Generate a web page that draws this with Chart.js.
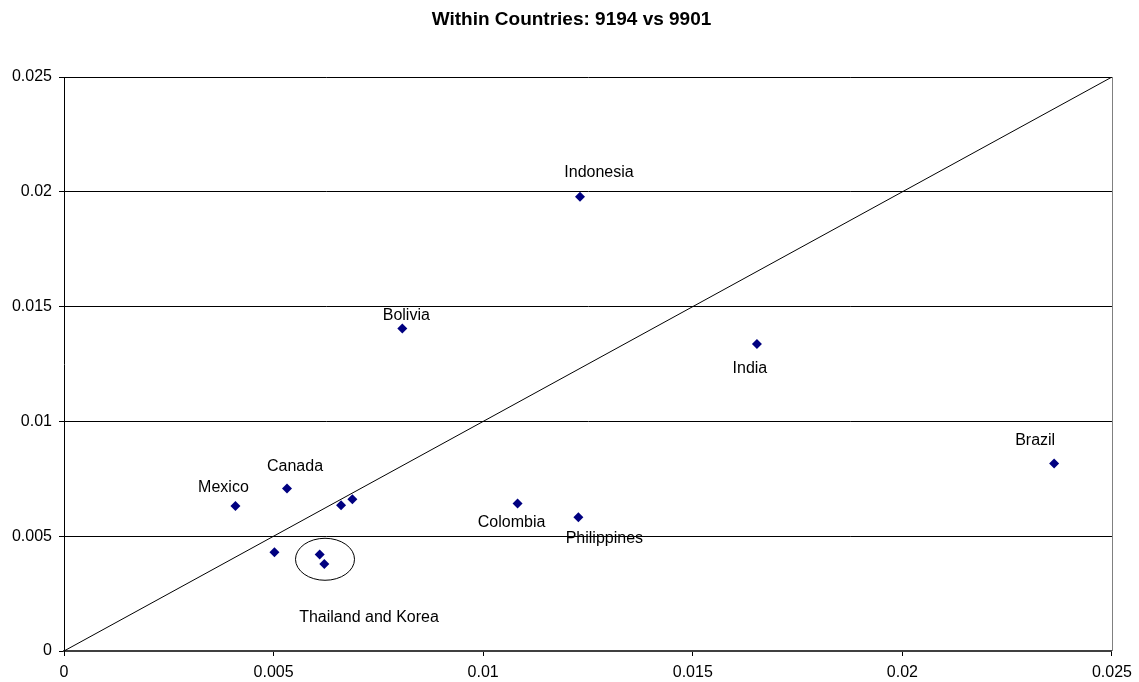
<!DOCTYPE html>
<html lang="en">
<head>
    <meta charset="UTF-8">
    <title>Within Countries: 9194 vs 9901</title>
    <script src="https://cdn.jsdelivr.net/npm/chart.js"></script>
    <style>
        html, body { margin: 0; padding: 0; background: #fff; }
        #wrap { width: 1139px; height: 682px; }
    </style>
</head>
<body>
<div id="wrap"><canvas id="withinChart"></canvas></div>
<script>
    // values
    const countries = ['Mexico', 'Canada', '', '', '', 'Thailand', 'Korea', 'Colombia', 'Philippines', 'Indonesia', 'Bolivia', 'India', 'Brazil'];
    const x9194 = [0.00409, 0.00532, 0.00661, 0.00688, 0.00502, 0.00610, 0.00621, 0.01082, 0.01227, 0.01231, 0.00807, 0.01653, 0.02362];
    const y9901 = [0.00631, 0.00708, 0.00635, 0.00661, 0.00430, 0.00420, 0.00379, 0.00642, 0.00582, 0.01978, 0.01405, 0.01337, 0.00817];
    const diagX = [0, 0.025];
    const diagY = [0, 0.025];
    const tickVals = [0, 0.005, 0.01, 0.015, 0.02, 0.025];
    const chartTitle = 'Within Countries: 9194 vs 9901';

    const FONT = '"Liberation Sans", Arial, sans-serif';

    // text label offsets (px) from each point
    const labelOffsets = {
        'Mexico': [-12, -19], 'Canada': [8, -22], 'Colombia': [-6, 19], 'Philippines': [26, 21],
        'Indonesia': [19, -24], 'Bolivia': [4, -13], 'India': [-7, 25], 'Brazil': [-19, -23]
    };

    const annotate = {
        id: 'annotate',
        afterDatasetsDraw(chart) {
            const { ctx, chartArea, scales } = chart;
            ctx.save();
            // right frame line
            ctx.strokeStyle = '#808080';
            ctx.lineWidth = 1;
            ctx.beginPath();
            ctx.moveTo(Math.round(chartArea.right) + 0.5, chartArea.top);
            ctx.lineTo(Math.round(chartArea.right) + 0.5, chartArea.bottom);
            ctx.stroke();

            ctx.fillStyle = '#000';
            ctx.textAlign = 'center';
            ctx.textBaseline = 'middle';

            // title, centred on the page
            ctx.font = 'bold 19px ' + FONT;
            ctx.fillText(chartTitle, chart.width / 2 + 2, 20);

            ctx.font = '16px ' + FONT;
            countries.forEach((name, i) => {
                const off = labelOffsets[name];
                if (!off) return;
                const px = scales.x.getPixelForValue(x9194[i]);
                const py = scales.y.getPixelForValue(y9901[i]);
                ctx.fillText(name, px + off[0], py + off[1]);
            });

            // circle round Thailand and Korea
            const ti = countries.indexOf('Thailand'), ki = countries.indexOf('Korea');
            const cx = scales.x.getPixelForValue((x9194[ti] + x9194[ki]) / 2) + 3;
            const cy = scales.y.getPixelForValue((y9901[ti] + y9901[ki]) / 2);
            ctx.strokeStyle = '#000';
            ctx.beginPath();
            ctx.ellipse(cx, cy, 29.5, 21, 0, 0, Math.PI * 2);
            ctx.stroke();
            ctx.fillText('Thailand and Korea', cx + 44, cy + 58);
            ctx.restore();
        }
    };

    const fmt = v => String(+(+v).toFixed(3));

    new Chart(document.getElementById('withinChart'), {
        data: {
            datasets: [
                {
                    type: 'line',
                    data: diagX.map((x, i) => ({ x: x, y: diagY[i] })),
                    borderColor: '#000',
                    borderWidth: 1,
                    pointRadius: 0,
                    fill: false
                },
                {
                    type: 'scatter',
                    data: x9194.map((x, i) => ({ x: x, y: y9901[i] })),
                    pointStyle: 'rectRot',
                    pointRadius: 5,
                    backgroundColor: '#000080',
                    borderColor: '#000080',
                    borderWidth: 0
                }
            ]
        },
        options: {
            responsive: true,
            maintainAspectRatio: false,
            animation: false,
            layout: { padding: { left: 0, right: 27, top: 77, bottom: 0 } },
            plugins: {
                legend: { display: false },
                tooltip: { enabled: false },
                title: { display: false }
            },
            scales: {
                x: {
                    type: 'linear',
                    min: 0, max: 0.025,
                    afterFit: s => { s.height = 31; },
                    afterBuildTicks: s => { s.ticks = tickVals.map(v => ({ value: v })); },
                    ticks: { color: '#000', font: { family: FONT, size: 16 }, padding: 7, maxRotation: 0, callback: fmt },
                    grid: { drawOnChartArea: false, drawTicks: true, tickLength: 5, color: '#000' },
                    border: { color: '#404040', width: 2 }
                },
                y: {
                    type: 'linear',
                    min: 0, max: 0.025,
                    afterFit: s => { s.width = 64; },
                    afterBuildTicks: s => { s.ticks = tickVals.map(v => ({ value: v })); },
                    ticks: { color: '#000', font: { family: FONT, size: 16 }, padding: 7, callback: fmt },
                    grid: { color: '#000', lineWidth: 1, tickLength: 5 },
                    border: { color: '#000', width: 1 }
                }
            }
        },
        plugins: [annotate]
    });
</script>
</body>
</html>
